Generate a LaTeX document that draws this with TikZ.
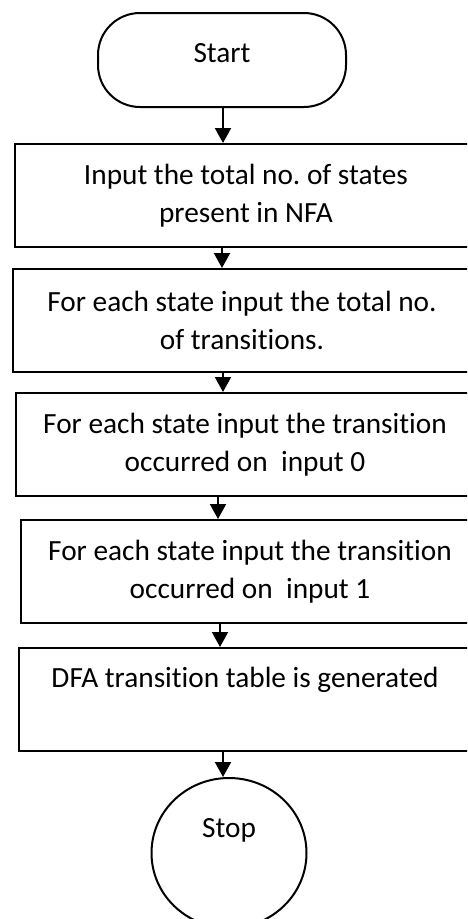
\documentclass[tikz,border=0pt]{standalone}
\usepackage{fontspec}
\setmainfont{Carlito}[Ligatures=NoCommon]
\usetikzlibrary{arrows.meta,shapes.geometric}
\frenchspacing
\begin{document}
\begin{tikzpicture}[x=1pt,y=-1pt,
  every node/.style={font=\fontsize{29.3}{37.5}\selectfont, inner sep=0pt},
  term/.style={draw, line width=2pt, rounded corners=42pt, minimum width=248pt, minimum height=94pt, text height=19pt, text depth=15pt},
  procbox/.style={draw, line width=2pt, minimum height=103pt, align=center},
  stopnode/.style={draw, line width=2pt, ellipse, minimum width=155pt, minimum height=150pt, text height=19pt, text depth=51pt},
  arr/.style={line width=2pt, -{Triangle[length=15pt,width=16pt]}}]
\useasboundingbox (0,0) rectangle (467,919);
\clip (0,0) rectangle (467,919);
\node[term] (start) at (222,60) {Start};
\node[procbox, minimum width=462pt] (b1) at (246,195.5) {Input the total no. of states\\present in NFA};
\node[procbox, minimum width=458pt] (b2) at (242,320.5) {For each state input the total no.\\of transitions.};
\node[procbox, minimum width=458pt] (b3) at (245,444.5) {For each state input the transition\\occurred on~ input 0};
\node[procbox, minimum width=458pt] (b4) at (250,571.5) {For each state input the transition\\occurred on~ input 1};
\node[procbox, minimum width=452pt, text height=20pt, text depth=44pt] (b5) at (245,699.5) {DFA transition table is generated};
\node[stopnode] (stop) at (229,853) {Stop};
\coordinate (a1) at (223,0);
\coordinate (a2) at (222,0);
\coordinate (a3) at (223,0);
\coordinate (a4) at (218,0);
\coordinate (a5) at (220,0);
\coordinate (a6) at (223,0);
\draw[arr] (start.south -| a1) -- (b1.north -| a1);
\draw[arr] (b1.south -| a2) -- (b2.north -| a2);
\draw[arr] (b2.south -| a3) -- (b3.north -| a3);
\draw[arr] (b3.south -| a4) -- (b4.north -| a4);
\draw[arr] (b4.south -| a5) -- (b5.north -| a5);
\draw[arr] (b5.south -| a6) -- (stop.north -| a6);
\end{tikzpicture}
\end{document}
